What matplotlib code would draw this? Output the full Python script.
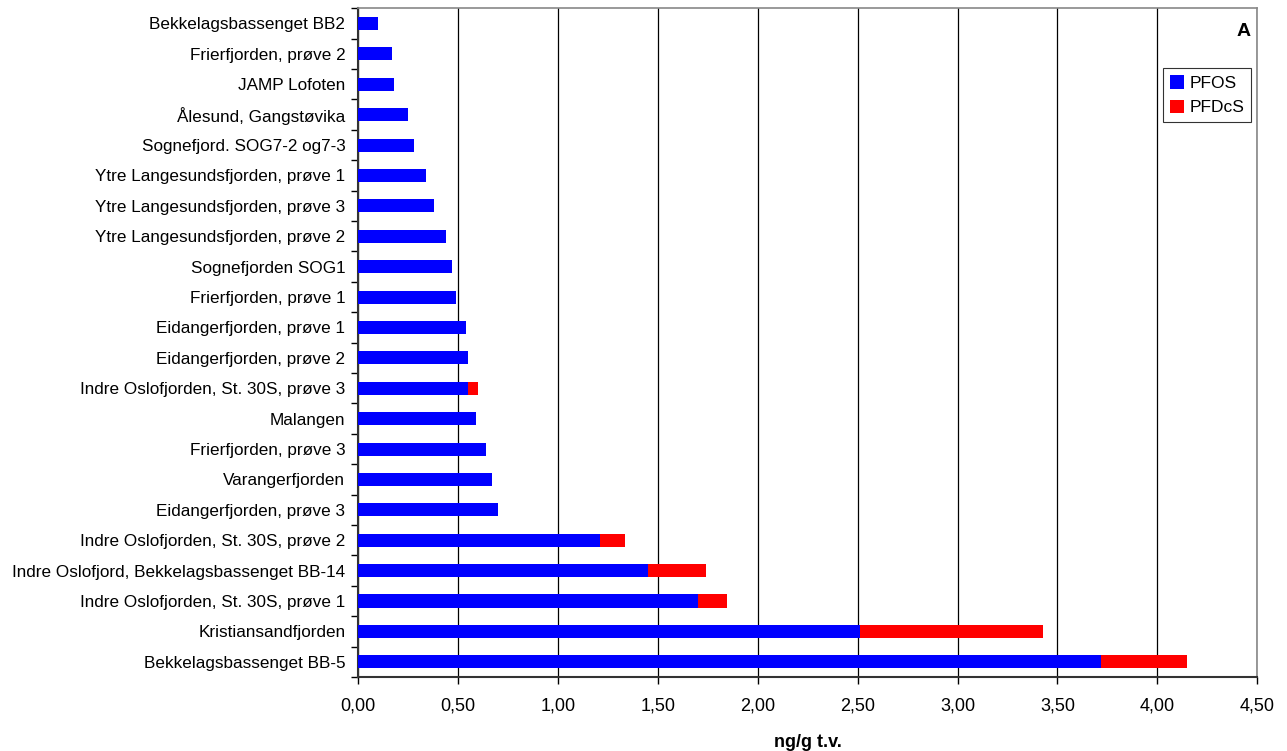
import numpy as np
import matplotlib.pyplot as plt
from matplotlib.ticker import FuncFormatter, FixedLocator

plt.rcParams['font.family'] = ['Liberation Sans', 'DejaVu Sans']

# categories listed bottom to top
stations = [
    'Bekkelagsbassenget BB-5',
    'Kristiansandfjorden',
    'Indre Oslofjorden, St. 30S, prøve 1',
    'Indre Oslofjord, Bekkelagsbassenget BB-14',
    'Indre Oslofjorden, St. 30S, prøve 2',
    'Eidangerfjorden, prøve 3',
    'Varangerfjorden',
    'Frierfjorden, prøve 3',
    'Malangen',
    'Indre Oslofjorden, St. 30S, prøve 3',
    'Eidangerfjorden, prøve 2',
    'Eidangerfjorden, prøve 1',
    'Frierfjorden, prøve 1',
    'Sognefjorden SOG1',
    'Ytre Langesundsfjorden, prøve 2',
    'Ytre Langesundsfjorden, prøve 3',
    'Ytre Langesundsfjorden, prøve 1',
    'Sognefjord. SOG7-2 og7-3',
    'Ålesund, Gangstøvika',
    'JAMP Lofoten',
    'Frierfjorden, prøve 2',
    'Bekkelagsbassenget BB2',
]
pfos = [3.72, 2.51, 1.70, 1.45, 1.21, 0.70, 0.67, 0.64, 0.59, 0.55, 0.55,
        0.54, 0.49, 0.47, 0.44, 0.38, 0.34, 0.28, 0.25, 0.18, 0.17, 0.10]
pfdcs = [0.43, 0.92, 0.145, 0.29, 0.125, 0, 0, 0, 0, 0.05, 0,
         0, 0, 0, 0, 0, 0, 0, 0, 0, 0, 0]

fig = plt.figure(figsize=(12.87, 7.51), dpi=100)
ax = fig.add_axes([0.278, 0.0985, 0.699, 0.8905])

y = np.arange(len(stations))
h = 0.43
ax.barh(y, pfos, height=h, color='#0000ff', label='PFOS', zorder=3)
ax.barh(y, pfdcs, left=pfos, height=h, color='#ff0000', label='PFDcS', zorder=3)

ax.set_xlim(0, 4.5)
ax.set_ylim(-0.5, len(stations) - 0.5)
ax.set_xticks(np.arange(0, 4.51, 0.5))
ax.xaxis.set_major_formatter(FuncFormatter(lambda v, p: f'{v:.2f}'.replace('.', ',')))
ax.grid(axis='x', color='black', linewidth=0.9, zorder=0)

ax.set_yticks(y)
ax.set_yticklabels(stations)
ax.yaxis.set_minor_locator(FixedLocator(np.arange(-0.5, len(stations), 1)))
ax.tick_params(axis='y', which='major', length=0, pad=9, labelsize=12.3)
ax.tick_params(axis='y', which='minor', length=5, width=1, color='black')
ax.tick_params(axis='x', length=5, width=1, labelsize=13, pad=10)

for s in ['top', 'right']:
    ax.spines[s].set_color('#888888')
    ax.spines[s].set_linewidth(1.2)
ax.spines['left'].set_color('#333333')
ax.spines['left'].set_linewidth(1.5)
ax.spines['bottom'].set_color('#333333')
ax.spines['bottom'].set_linewidth(1.5)

ax.set_xlabel('ng/g t.v.', fontsize=13, fontweight='bold', labelpad=14)

ax.text(0.993, 0.965, 'A', transform=ax.transAxes, ha='right', va='center',
        fontsize=14, fontweight='bold')

leg = ax.legend(loc='upper right', bbox_to_anchor=(0.993, 0.91), fontsize=12.5,
                frameon=True, fancybox=False, edgecolor='black',
                handlelength=0.8, handleheight=0.8, handletextpad=0.3,
                borderpad=0.4, labelspacing=0.5, borderaxespad=0)
leg.get_frame().set_linewidth(0.8)

fig.savefig('out.png', dpi=100)
